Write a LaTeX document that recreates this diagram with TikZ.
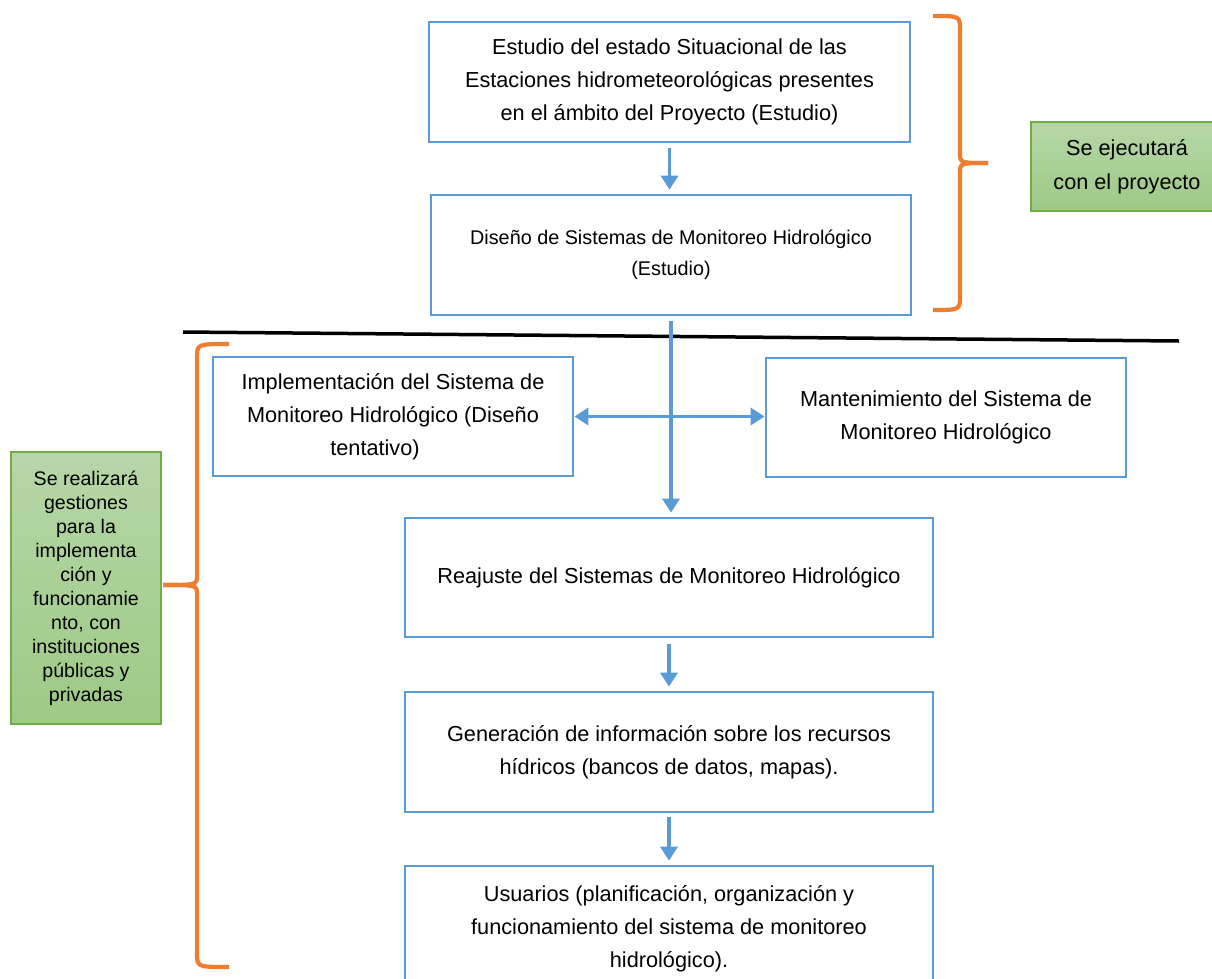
\documentclass[tikz,border=0pt]{standalone}
\usepackage{fontspec}
\setmainfont{Liberation Sans}
\usetikzlibrary{arrows.meta}
\definecolor{bluebox}{HTML}{5B9BD5}
\definecolor{orangebr}{HTML}{ED7D31}
\definecolor{greenborder}{HTML}{70AD47}
\definecolor{greentop}{HTML}{B6D7A8}
\definecolor{greenbot}{HTML}{9DC985}
\begin{document}
\begin{tikzpicture}[x=1pt,y=-1pt,
  box/.style={draw=bluebox,line width=2.8pt,inner sep=0pt,align=center,fill=white,
    font=\fontsize{21.7}{33}\selectfont},
  arr/.style={draw=bluebox,line width=3.5pt,-{Triangle[length=14pt,width=17pt]}},
  dblarr/.style={draw=bluebox,line width=3.5pt,{Triangle[length=14pt,width=17pt]}-{Triangle[length=14pt,width=17pt]}},
  bracepath/.style={draw=orangebr,line width=4.2pt},
  greenbox/.style={draw=greenborder,line width=1.4pt,top color=greentop,bottom color=greenbot,
    inner sep=0pt,align=center}]
\clip (0,0) rectangle (1212,978);
\fill[white] (0,0) rectangle (1212,978);

% boxes
\node[box, minimum width=481pt, minimum height=120pt] (b1) at (669.5,82)
  {Estudio del estado Situacional de las\\Estaciones hidrometeorológicas presentes\\en el ámbito del Proyecto (Estudio)};
\node[box, minimum width=480pt, minimum height=120pt, font=\fontsize{19.8}{31}\selectfont] (b2) at (671,255)
  {Diseño de Sistemas de Monitoreo Hidrológico\\(Estudio)};
\node[box, minimum width=360pt, minimum height=119pt] (impl) at (393,416.5)
  {Implementación del Sistema de\\Monitoreo Hidrológico (Diseño\\tentativo)\hspace*{36pt}};
\node[box, minimum width=360pt, minimum height=119pt] (mant) at (946,417.5)
  {Mantenimiento del Sistema de\\Monitoreo Hidrológico};
\node[box, minimum width=528pt, minimum height=119pt] (reaj) at (669,577.5)
  {Reajuste del Sistemas de Monitoreo Hidrológico};
\node[box, minimum width=528pt, minimum height=120pt] (gen) at (669,752)
  {Generación de información sobre los recursos\\hídricos (bancos de datos, mapas).};
\node[box, minimum width=528pt, minimum height=126pt] (usu) at (669,929)
  {Usuarios (planificación, organización y\\funcionamiento del sistema de monitoreo\\hidrológico).};

% green notes
\node[greenbox, minimum width=192pt, minimum height=89pt, font=\fontsize{21.7}{34}\selectfont] (gr) at (1127,166.5)
  {Se ejecutará\\con el proyecto};
\node[greenbox, minimum width=150pt, minimum height=272pt, font=\fontsize{19.6}{24}\selectfont] (gl) at (86,588)
  {Se realizará\\gestiones\\para la\\implementa\\ción y\\funcionamie\\nto, con\\instituciones\\públicas y\\privadas};

% separator line
\draw[line width=3.5pt] (183,332) -- (1179,341);

% connectors
\draw[arr, shorten <=5pt, shorten >=4pt] (b1.south) -- (b1.south |- b2.north);
\draw[arr, shorten <=5pt, shorten >=4pt] (b2.south) -- (b2.south |- reaj.north);
\draw[dblarr] (impl.east) -- (impl.east -| mant.west);
\draw[arr, shorten <=6pt, shorten >=4pt] (reaj.south) -- (reaj.south |- gen.north);
\draw[arr, shorten <=4pt, shorten >=4pt] (gen.south) -- (gen.south |- usu.north);

% right brace
\draw[bracepath] (933,16) .. controls (960,16) .. (960,30) -- (960,153)
  .. controls (960,163) .. (988,163);
\draw[bracepath] (988,163) .. controls (960,163) .. (960,173) -- (960,296)
  .. controls (960,310) .. (933,310);
% left brace
\draw[bracepath] (229,344) .. controls (197,344) .. (197,358) -- (197,575)
  .. controls (197,585) .. (163,585);
\draw[bracepath] (163,585) .. controls (197,585) .. (197,595) -- (197,953)
  .. controls (197,967) .. (229,967);
\end{tikzpicture}
\end{document}
